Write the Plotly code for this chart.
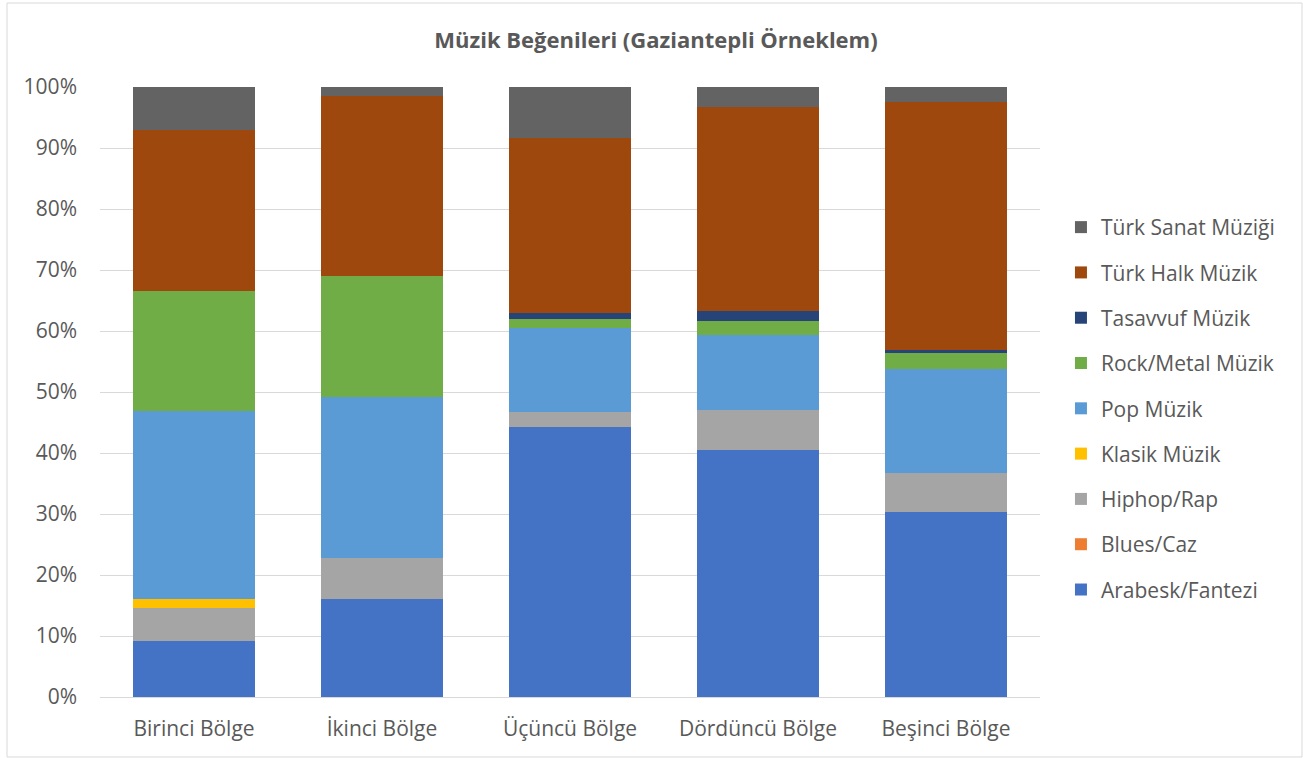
import plotly.graph_objects as go

categories = ["Birinci Bölge", "İkinci Bölge", "Üçüncü Bölge", "Dördüncü Bölge", "Beşinci Bölge"]

arabesk = [9.1, 16.0, 44.2, 40.5, 30.4]
blues = [0.0, 0.0, 0.0, 0.0, 0.0]
hiphop = [5.5, 6.8, 2.5, 6.6, 6.4]
klasik = [1.5, 0.0, 0.0, 0.0, 0.0]
pop = [30.8, 26.4, 13.8, 12.3, 17.0]
rock = [19.6, 19.8, 1.5, 2.3, 2.6]
tasavvuf = [0.0, 0.0, 1.0, 1.6, 0.5]
halk = [26.5, 29.5, 28.7, 33.5, 40.6]
sanat = [7.0, 1.5, 8.3, 3.2, 2.5]

series_names = ["Arabesk/Fantezi", "Blues/Caz", "Hiphop/Rap", "Klasik Müzik", "Pop Müzik",
                "Rock/Metal Müzik", "Tasavvuf Müzik", "Türk Halk Müzik", "Türk Sanat Müziği"]
series_values = [arabesk, blues, hiphop, klasik, pop, rock, tasavvuf, halk, sanat]
colors = ["#4472C4", "#ED7D31", "#A5A5A5", "#FFC000", "#5B9BD5",
          "#70AD47", "#264478", "#9E480E", "#636363"]

fig = go.Figure()
n = len(series_names)
for i, (name, vals, col) in enumerate(zip(series_names, series_values, colors)):
    fig.add_trace(go.Bar(x=categories, y=vals, name=name, marker=dict(color=col, line=dict(width=0)),
                         legendgroup=f"g{i}", legendrank=(n - i) * 10))

font = "'Open Sans', sans-serif"
fs = 21
fig.update_layout(
    barmode="stack",
    barnorm="percent",
    bargap=0.356,
    width=1303, height=758,
    paper_bgcolor="white", plot_bgcolor="white",
    margin=dict(l=100, r=263, t=87, b=61),
    title=dict(text="<b>Müzik Beğenileri (Gaziantepli Örneklem)</b>", x=656 / 1303, xanchor="center",
               y=1 - 40 / 758, yanchor="middle", xref="container", yref="container",
               font=dict(family=font, size=22, color="#595959")),
    font=dict(family=font, size=fs, color="#595959"),
    legend=dict(traceorder="grouped", x=1.0223, xanchor="left", y=0.473, yanchor="middle",
                font=dict(family=font, size=fs, color="#595959"), tracegroupgap=15,
                itemwidth=30),
    xaxis=dict(showgrid=False, showline=True, linecolor="#D9D9D9", linewidth=1,
               ticks="", tickfont=dict(size=fs, color="#595959"), ticklabelstandoff=13),
    yaxis=dict(range=[0, 100], dtick=10, ticksuffix="%", showgrid=True, gridcolor="#D9D9D9",
               gridwidth=1, zeroline=False, showline=False, tickfont=dict(size=fs, color="#595959"),
               ticklabelstandoff=22),
)
fig.add_shape(type="rect", xref="paper", yref="paper",
              x0=(7 - 100) / 940, x1=(1302 - 100) / 940, y0=-(757 - 697) / 610, y1=1 + (87 - 3) / 610,
              line=dict(color="#D9D9D9", width=1), fillcolor="rgba(0,0,0,0)")

fig.write_html("out.html", config={"displayModeBar": False},
               post_script="document.body.style.margin='0';")
